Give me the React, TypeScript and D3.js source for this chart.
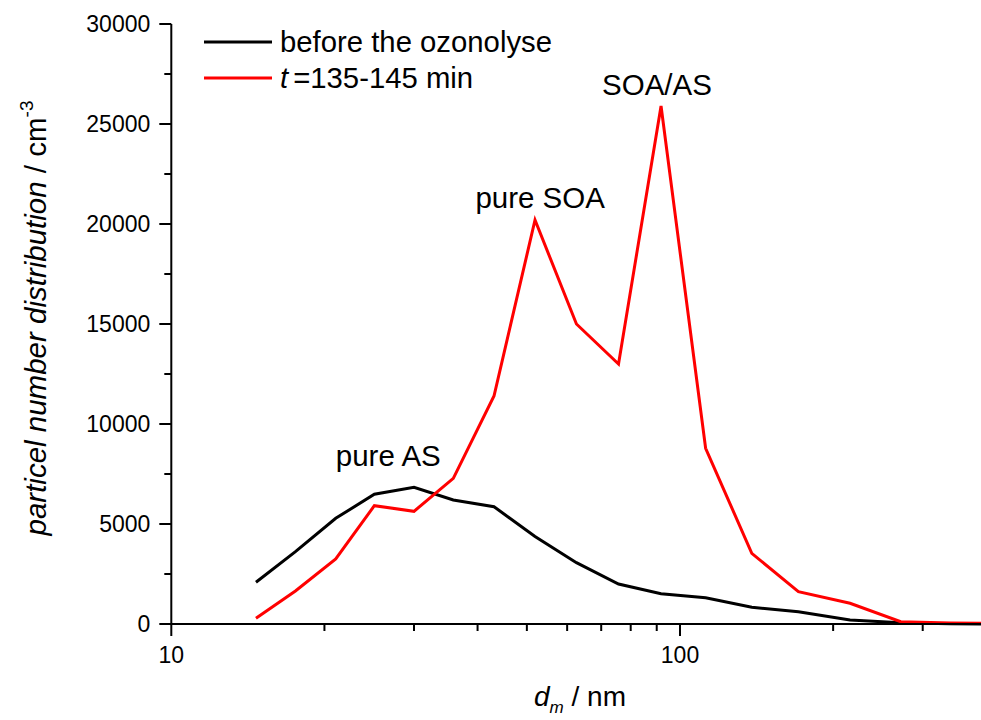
import React from "react";
import * as d3 from "d3";

const diameters = [14.67, 17.54, 21.05, 25.07, 30.0, 35.84, 43.09, 51.88, 62.58, 75.71, 91.78, 112.3, 138.4, 170.9, 215.9, 271.6, 339.6, 425.6];
const beforeOzonolyse = [2085, 3615, 5285, 6485, 6835, 6200, 5865, 4375, 3065, 2000, 1510, 1315, 835, 615, 200, 65, 10, 0];
const after135to145 = [285, 1650, 3250, 5915, 5635, 7285, 11400, 20200, 15000, 13000, 25900, 8785, 3535, 1615, 1035, 115, 50, 20];

const yMajorTicks = [0, 5000, 10000, 15000, 20000, 25000, 30000];
const yMinorTicks = [2500, 7500, 12500, 17500, 22500, 27500];
const xMajorTicks = [10, 100];
const xMinorTicks = [20, 30, 40, 50, 60, 70, 80, 90, 200, 300];

const annotations = [
  { text: "pure AS", d: 26.7, v: 7900 },
  { text: "pure SOA", d: 53.1, v: 20800 },
  { text: "SOA/AS", d: 90.1, v: 26450 },
];

const W = 981;
const H = 720;
const FONT = "'Liberation Sans', Arial, sans-serif";

export default function App() {
  const x0 = 171.3;
  const decade = 508.7;
  const x = d3.scaleLog().domain([10, 400]).range([x0, x0 + decade * Math.log10(40)]);
  const y = d3.scaleLinear().domain([0, 30000]).range([624, 24]);

  const line = d3
    .line<[number, number]>()
    .x((p) => x(p[0]))
    .y((p) => y(p[1]));

  const blackPts = diameters.map((d, i) => [d, beforeOzonolyse[i]] as [number, number]);
  const redPts = diameters.map((d, i) => [d, after135to145[i]] as [number, number]);

  const axisColor = "#000";
  return (
    <svg
      width={W}
      height={H}
      style={{ position: "absolute", left: 0, top: 0, background: "#fff" }}
      fontFamily={FONT}
    >
      <rect x={0} y={0} width={W} height={H} fill="#fff" />
      {/* data lines */}
      <path d={line(blackPts) || ""} fill="none" stroke="#000" strokeWidth={3} strokeLinejoin="miter" />
      <path d={line(redPts) || ""} fill="none" stroke="#ff0000" strokeWidth={3} strokeLinejoin="miter" />

      {/* y axis */}
      <line x1={x0} x2={x0} y1={y(30000)} y2={y(0)} stroke={axisColor} strokeWidth={2} />
      {yMajorTicks.map((t) => (
        <g key={"ym" + t}>
          <line x1={x0 - 12} x2={x0} y1={y(t)} y2={y(t)} stroke={axisColor} strokeWidth={2} />
          <text x={x0 - 21} y={y(t)} dy="0.35em" textAnchor="end" fontSize={23} fill="#000">
            {t}
          </text>
        </g>
      ))}
      {yMinorTicks.map((t) => (
        <line key={"yn" + t} x1={x0 - 7} x2={x0} y1={y(t)} y2={y(t)} stroke={axisColor} strokeWidth={2} />
      ))}

      {/* x axis */}
      <line x1={x0 - 1} x2={W} y1={y(0)} y2={y(0)} stroke={axisColor} strokeWidth={2} />
      {xMajorTicks.map((t) => (
        <g key={"xm" + t}>
          <line x1={x(t)} x2={x(t)} y1={y(0)} y2={y(0) + 12} stroke={axisColor} strokeWidth={2} />
          <text x={x(t)} y={663} textAnchor="middle" fontSize={23} fill="#000">
            {t}
          </text>
        </g>
      ))}
      {xMinorTicks.map((t) => (
        <line key={"xn" + t} x1={x(t)} x2={x(t)} y1={y(0)} y2={y(0) + 7} stroke={axisColor} strokeWidth={2} />
      ))}

      {/* axis titles */}
      <text x={580} y={706} textAnchor="middle" fontSize={28} fill="#000">
        <tspan fontStyle="italic">d</tspan>
        <tspan fontStyle="italic" fontSize={17} dy={7}>m</tspan>
        <tspan dy={-7}> / nm</tspan>
      </text>
      <text
        transform="translate(46, 318) rotate(-90)"
        textAnchor="middle"
        fontSize={29.5}
        fill="#000"
      >
        <tspan fontStyle="italic">particel number distribution</tspan>
        <tspan> / cm</tspan>
        <tspan fontSize={19} dy={-13}>-3</tspan>
      </text>

      {/* legend */}
      <line x1={204} x2={272} y1={42} y2={42} stroke="#000" strokeWidth={3} />
      <text x={280} y={52} fontSize={29.3} fill="#000">before the ozonolyse</text>
      <line x1={204} x2={272} y1={78} y2={78} stroke="#ff0000" strokeWidth={3} />
      <text x={280} y={88} fontSize={29.3} fill="#000">
        <tspan fontStyle="italic">t</tspan>
        <tspan dx={5}>=135-145 min</tspan>
      </text>

      {/* annotations */}
      {annotations.map((a) => (
        <text key={a.text} x={x(a.d)} y={y(a.v)} textAnchor="middle" fontSize={29.5} fill="#000">
          {a.text}
        </text>
      ))}
    </svg>
  );
}
